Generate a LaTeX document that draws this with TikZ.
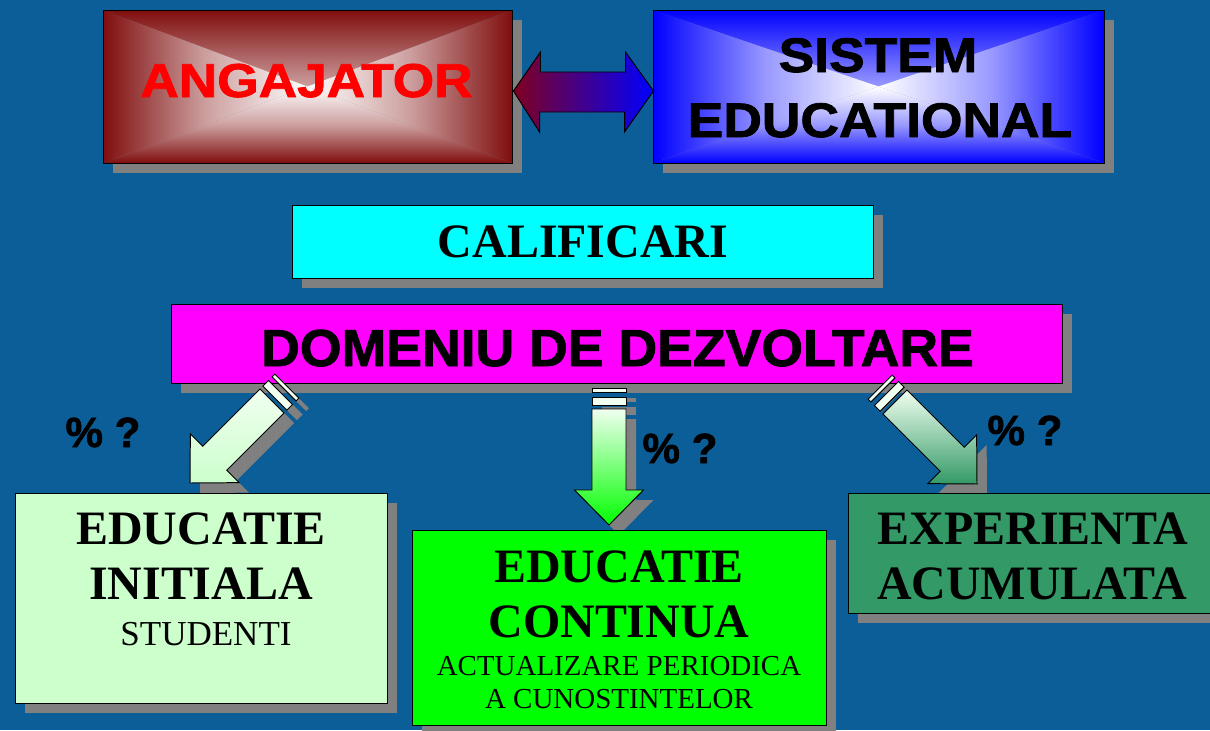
\documentclass[tikz,border=0pt]{standalone}
\usepackage{fontspec}
\setmainfont{Liberation Serif}
\newfontfamily\arialf{Liberation Sans}[BoldFeatures={FakeBold=1.6}]
\usetikzlibrary{shadows,calc}
\definecolor{bgblue}{RGB}{11,94,151}
\definecolor{shadowgray}{RGB}{128,128,128}
\definecolor{angred}{RGB}{128,14,14}
\definecolor{calcyan}{RGB}{0,255,255}
\definecolor{dommag}{RGB}{255,0,255}
\definecolor{lightgr}{RGB}{204,255,204}
\definecolor{vividgr}{RGB}{0,255,0}
\definecolor{seagr}{RGB}{51,153,102}
\definecolor{stripew}{RGB}{240,255,240}
\definecolor{arrred}{RGB}{128,0,32}
\newcommand\uu{0.025cm}
\newcommand\myblockarrow[4]{%
  \begin{scope}[shift={($(#1)+(10,10)$)}, rotate=#2]
    \fill[shadowgray] (0,0) -- (-34.5,-35) -- (-17,-35) -- (-17,-116) -- (17,-116) -- (17,-35) -- (34.5,-35) -- cycle;
    \fill[shadowgray] (-17,-120) rectangle (17,-128);
    \fill[shadowgray] (-17,-133) rectangle (17,-137);
  \end{scope}
  \begin{scope}[shift={(#1)}, rotate=#2]
    \shadedraw[draw=black, line width=0.7pt, top color=#3, bottom color=#4] (0,0) -- (-34.5,-35) -- (-17,-35) -- (-17,-116) -- (17,-116) -- (17,-35) -- (34.5,-35) -- cycle;
    \filldraw[fill=stripew, draw=black, line width=0.7pt] (-17,-120) rectangle (17,-128);
    \filldraw[fill=stripew, draw=black, line width=0.7pt] (-17,-133) rectangle (17,-137);
  \end{scope}}
\tikzset{
  box/.style={draw=black, line width=0.7pt, inner sep=0pt, rectangle,
    drop shadow={shadow xshift=10*\uu, shadow yshift=-10*\uu, fill=shadowgray, opacity=1}},
  rgrad/.style={path picture={
    \shade[top color=#1, bottom color=white, middle color=#1!40!white] (path picture bounding box.north west) -- (path picture bounding box.north east) -- (path picture bounding box.center) -- cycle;
    \shade[bottom color=#1, top color=white, middle color=#1!40!white] (path picture bounding box.south west) -- (path picture bounding box.south east) -- (path picture bounding box.center) -- cycle;
    \shade[left color=#1, right color=white, middle color=#1!40!white] (path picture bounding box.north west) -- (path picture bounding box.south west) -- (path picture bounding box.center) -- cycle;
    \shade[right color=#1, left color=white, middle color=#1!40!white] (path picture bounding box.north east) -- (path picture bounding box.south east) -- (path picture bounding box.center) -- cycle;
  }},
  txt/.style={anchor=base, inner sep=0pt},
  sanshead/.style={txt, font=\arialf\bfseries\fontsize{34.5}{40}\selectfont},
  serifhead/.style={txt, font=\bfseries\fontsize{34.1}{40}\selectfont},
  pct/.style={txt, font=\arialf\bfseries\fontsize{30}{36}\selectfont}
}
\begin{document}
\begin{tikzpicture}[x=0.025cm, y=-0.025cm]
\useasboundingbox (0,0) rectangle (1210,730);
\fill[bgblue] (0,0) rectangle (1210,730);

% top boxes
\node[box, rgrad=angred, minimum width=409*\uu, minimum height=153*\uu] (ang) at (307.5,86.5) {};
\node[box, rgrad=blue, minimum width=451*\uu, minimum height=153*\uu] (sis) at (878.5,86.5) {};
\node[box, fill=calcyan, minimum width=581*\uu, minimum height=73*\uu] (cal) at (582.5,241.5) {};
\node[box, fill=dommag, minimum width=891*\uu, minimum height=79*\uu] (dom) at (616.5,343.5) {};

% double arrow
\coordinate (dl) at ($(ang.east)+(1,4.5)$);
\coordinate (dr) at ($(sis.west)+(1,4.5)$);
\fill[shadowgray, shift={(10,10)}] (dl) -- ++(27,-39) -- ++(0,20) -- ++(85,0) -- ++(0,-20) -- (dr) -- ++(-29,41) -- ++(0,-20) -- ++(-85,0) -- ++(0,20) -- cycle;
\shadedraw[draw=black, line width=0.7pt, left color=arrred, right color=blue]
  (dl) -- ++(27,-39) -- ++(0,20) -- ++(85,0) -- ++(0,-20) -- (dr) -- ++(-29,41) -- ++(0,-20) -- ++(-85,0) -- ++(0,20) -- cycle;

% block arrows
\coordinate (tipL) at (190,483);
\coordinate (tipM) at (609,525);
\coordinate (tipR) at (977,484);
\myblockarrow{tipL}{-45}{stripew}{lightgr}
\myblockarrow{tipM}{0}{stripew}{vividgr}
\myblockarrow{tipR}{45}{stripew}{seagr}

% bottom boxes
\node[box, fill=lightgr, minimum width=372*\uu, minimum height=210*\uu] (ini) at (201,598) {};
\node[box, fill=vividgr, minimum width=414*\uu, minimum height=195*\uu] (con) at (619,627.5) {};
\node[box, fill=seagr, minimum width=367*\uu, minimum height=120*\uu] (exp) at (1031.5,553) {};

% texts
\node[sanshead, text=red, xscale=1.12, font=\arialf\bfseries\fontsize{33.8}{40}\selectfont] (tang) at (306.5,97) {ANGAJATOR};
\node[sanshead, xscale=1.1] (tsis1) at (878,72) {SISTEM};
\node[sanshead, xscale=1.1] (tsis2) at (880,137) {EDUCATIONAL};
\node[serifhead] (tcal) at (583,257) {CALIFICARI};
\node[sanshead, xscale=1.03, font=\arialf\bfseries\fontsize{37}{42}\selectfont] (tdom) at (617.5,366) {DOMENIU DE DEZVOLTARE};

\node[serifhead] (ti1) at (201,544) {EDUCATIE};
\node[serifhead] (ti2) at (201,599) {INITIALA};
\node[txt, font=\fontsize{24.9}{30}\selectfont] (ti3) at (206,645) {STUDENTI};

\node[serifhead] (tc1) at (619,582) {EDUCATIE};
\node[serifhead] (tc2) at (619,637) {CONTINUA};
\node[txt, font=\fontsize{20.6}{25}\selectfont] (tc3) at (619,675) {ACTUALIZARE PERIODICA};
\node[txt, font=\fontsize{20.6}{25}\selectfont] (tc4) at (619,708) {A CUNOSTINTELOR};

\node[serifhead] (te1) at (1033,544) {EXPERIENTA};
\node[serifhead] (te2) at (1032,599) {ACUMULATA};

\node[pct] (q1) at (103,447) {\% ?};
\node[pct] (q2) at (680,463) {\% ?};
\node[pct] (q3) at (1025,445) {\% ?};
\end{tikzpicture}
\end{document}
